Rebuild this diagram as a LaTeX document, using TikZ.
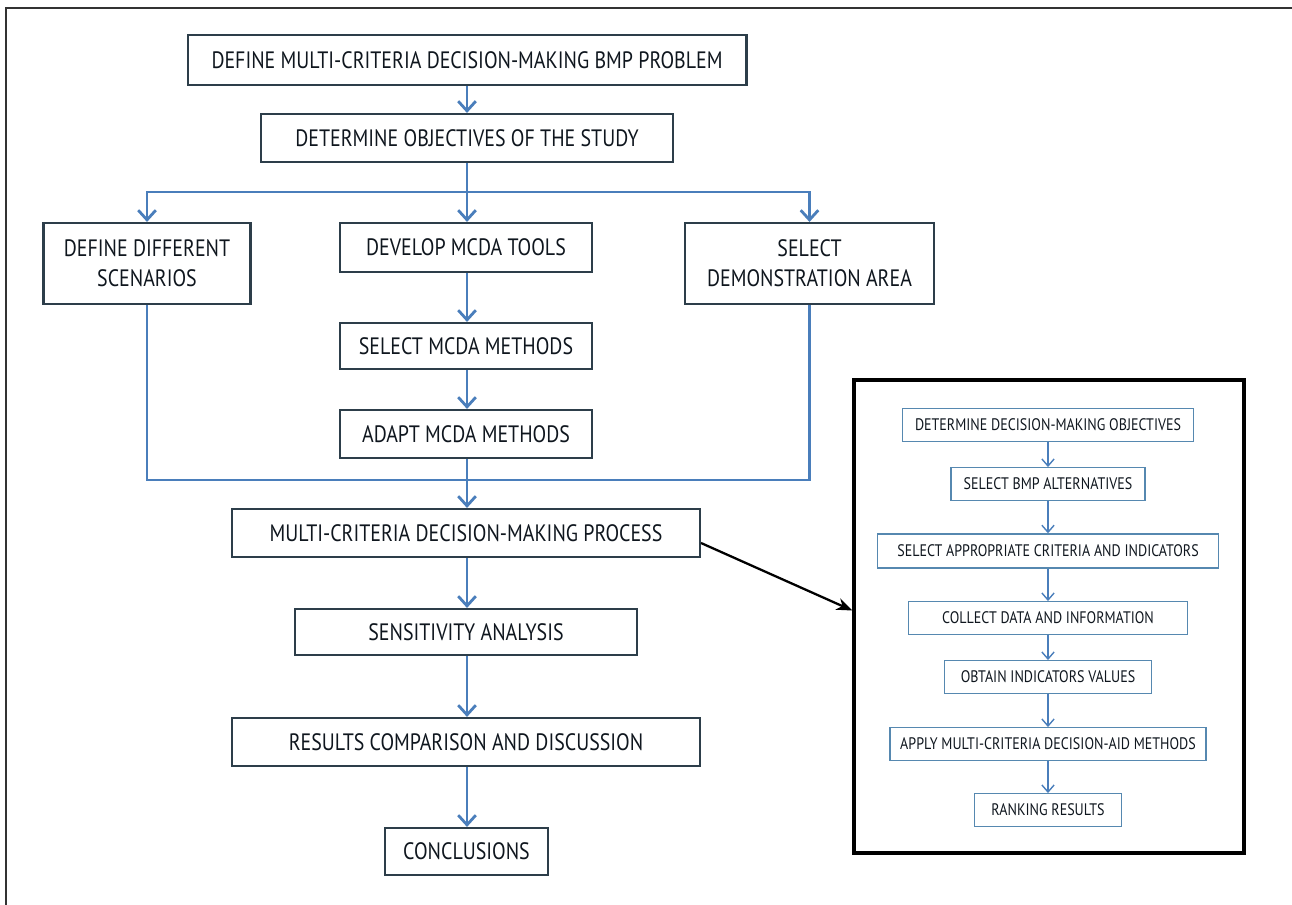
\documentclass[tikz,border=0pt]{standalone}
\usepackage{fontspec}
\setmainfont{PT Sans}[FakeStretch=0.84]
\usepackage{tikz}
\usetikzlibrary{arrows.meta,positioning}
\definecolor{flowblue}{RGB}{74,126,187}
\definecolor{boxline}{RGB}{45,62,74}
\definecolor{subline}{RGB}{86,136,176}
\definecolor{inktext}{RGB}{15,22,30}

\begin{document}
\begin{tikzpicture}[x=0.02cm,y=-0.02cm,
    stepbox/.style={draw=boxline,line width=1.2pt,rectangle,inner sep=0pt,align=center,text=inktext,font=\fontsize{13.5}{17}\selectfont},
    subbox/.style={draw=subline,line width=0.8pt,rectangle,inner sep=0pt,align=center,text=inktext,font=\fontsize{9.5}{11}\selectfont,minimum height=0.65cm},
    flow/.style={draw=flowblue,line width=1.6pt,-{Straight Barb[length=5.5pt,width=10pt,line width=1.6pt]}},
    flowline/.style={draw=flowblue,line width=1.6pt},
    subflow/.style={draw=flowblue,line width=0.8pt,-{Straight Barb[length=4pt,width=7pt,line width=0.8pt]}}]
  \useasboundingbox (0,0) rectangle (1292,905);
  % frame
  \draw[line width=1.3pt,black!80] (6,905) -- (6,8) -- (1292,8);

  % main chain
  \node[stepbox,minimum width=11.18cm,minimum height=1cm] (def) at (467,60) {DEFINE MULTI-CRITERIA DECISION-MAKING BMP PROBLEM};
  \node[stepbox,minimum width=8.24cm,minimum height=0.96cm] (obj) at (467,138) {DETERMINE OBJECTIVES OF THE STUDY};
  \node[stepbox,minimum width=4.14cm,minimum height=1.62cm] (scen) at (147,263.5) {DEFINE DIFFERENT\\SCENARIOS};
  \node[stepbox,minimum width=5.04cm,minimum height=0.98cm] (tools) at (466,247.5) {DEVELOP MCDA TOOLS};
  \node[stepbox,minimum width=4.98cm,minimum height=1.62cm] (area) at (809.5,263.5) {SELECT\\DEMONSTRATION AREA};
  \node[stepbox,minimum width=5.04cm,minimum height=0.92cm] (sel) at (466,346) {SELECT MCDA METHODS};
  \node[stepbox,minimum width=5.04cm,minimum height=0.96cm] (adapt) at (466,434) {ADAPT MCDA METHODS};
  \node[stepbox,minimum width=9.36cm,minimum height=0.96cm] (mcdm) at (466,533) {MULTI-CRITERIA DECISION-MAKING PROCESS};
  \node[stepbox,minimum width=6.84cm,minimum height=0.92cm] (sens) at (466,632) {SENSITIVITY ANALYSIS};
  \node[stepbox,minimum width=9.36cm,minimum height=0.96cm] (res) at (466,742) {RESULTS COMPARISON AND DISCUSSION};
  \node[stepbox,minimum width=3.26cm,minimum height=0.94cm] (concl) at (466.5,851.5) {CONCLUSIONS};

  \coordinate (split) at (467,192);
  \coordinate (merge) at (467,480);
  \draw[flow] (def) -- (obj);
  \draw[flowline] (obj.south) -- (split);
  \draw[flow] (split) -| (scen.north);
  \draw[flow] (split) -- (split |- tools.north);
  \draw[flow] (split) -| (area.north);
  \draw[flow] (tools.south -| split) -- (sel.north -| split);
  \draw[flow] (sel.south -| split) -- (adapt.north -| split);
  \draw[flowline] (adapt.south -| split) -- (merge);
  \draw[flowline] (scen.south) |- (merge);
  \draw[flowline] (area.south) |- (merge);
  \draw[flow] (merge) -- (mcdm.north -| split);
  \draw[flow] (mcdm.south -| split) -- (sens.north -| split);
  \draw[flow] (sens.south -| split) -- (res.north -| split);
  \draw[flow] (res.south -| split) -- (concl.north -| split);

  % detail of the process
  \node[draw=black,line width=2pt,minimum width=7.8cm,minimum height=9.46cm] (panel) at (1049,616.5) {};
  \node[subbox,minimum width=5.82cm] (i1) at (1048,425) {DETERMINE DECISION-MAKING OBJECTIVES};
  \node[subbox,minimum width=3.88cm] (i2) at (1048,484) {SELECT BMP ALTERNATIVES};
  \node[subbox,minimum width=6.82cm,minimum height=0.68cm] (i3) at (1048,551) {SELECT APPROPRIATE CRITERIA AND INDICATORS};
  \node[subbox,minimum width=5.58cm] (i4) at (1048,618) {COLLECT DATA AND INFORMATION};
  \node[subbox,minimum width=4.14cm] (i5) at (1048,677) {OBTAIN INDICATORS VALUES};
  \node[subbox,minimum width=6.32cm] (i6) at (1048,744) {APPLY MULTI-CRITERIA DECISION-AID METHODS};
  \node[subbox,minimum width=2.94cm] (i7) at (1048,810) {RANKING RESULTS};
  \foreach \a/\b in {i1/i2,i2/i3,i3/i4,i4/i5,i5/i6,i6/i7}
    \draw[subflow] (\a) -- (\b);

  \draw[line width=1.3pt,-{Stealth[length=9pt,width=7pt]}] ([yshift=-0.2cm]mcdm.east) -- ([yshift=0.12cm]panel.west);
\end{tikzpicture}
\end{document}
